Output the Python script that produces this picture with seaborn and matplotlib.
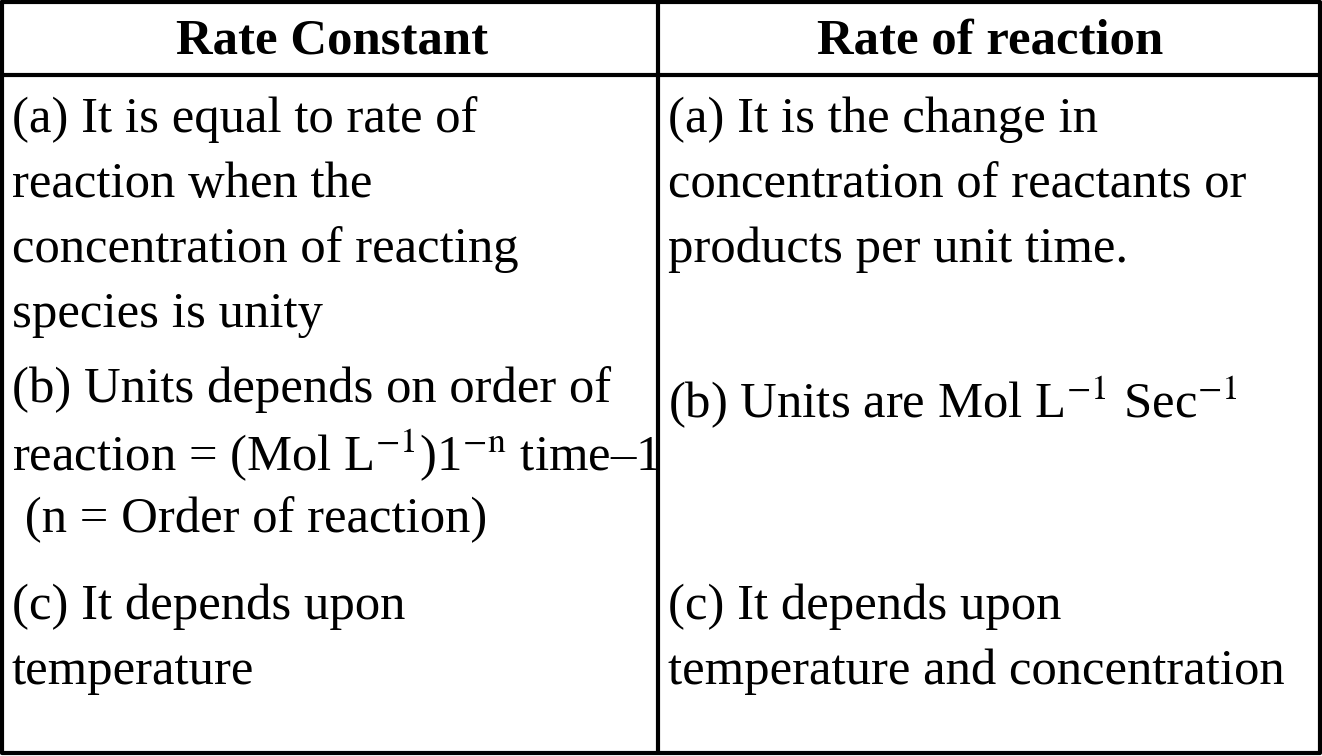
import matplotlib.pyplot as plt
import seaborn as sns

sns.set_style('white')
plt.rcParams['font.family'] = ['Liberation Serif', 'DejaVu Serif']
plt.rcParams['mathtext.fontset'] = 'stix'
plt.rcParams['text.color'] = 'black'

headers = ['Rate Constant', 'Rate of reaction']
left_cells = [
    ['(a) It is equal to rate of', 'reaction when the', 'concentration of reacting', 'species is unity'],
    ['(b) Units depends on order of', r'reaction = (Mol L$^{-1}$)1$^{-\mathrm{n}}$ time–1', ' (n = Order of reaction)'],
    ['(c) It depends upon', 'temperature'],
]
right_cells = [
    ['(a) It is the change in', 'concentration of reactants or', 'products per unit time.'],
    [r'(b) Units are Mol L$^{-1}$ Sec$^{-1}$'],
    ['(c) It depends upon', 'temperature and concentration'],
]
left_row_y = [120, 390, 607]
right_row_y = [120, 402, 607]
line_step = 65
fs = 36.5

W, H = 1322, 756
fig = plt.figure(figsize=(W / 100, H / 100), dpi=100)
ax = fig.add_axes([0, 0, 1, 1])
ax.set_xlim(0, W)
ax.set_ylim(H, 0)
ax.axis('off')

lw = 3
ax.plot([2, W - 2, W - 2, 2, 2], [2, 2, H - 3, H - 3, 2], color='black', lw=lw)
ax.plot([2, W - 2], [75, 75], color='black', lw=lw)
ax.plot([658, 658], [2, H - 3], color='black', lw=lw)

ax.text(332, 42, headers[0], ha='center', va='center', fontsize=fs, fontweight='bold')
ax.text(990, 42, headers[1], ha='center', va='center', fontsize=fs, fontweight='bold')

for x0, cells, ys in [(12, left_cells, left_row_y), (668, right_cells, right_row_y)]:
    for lines, y0 in zip(cells, ys):
        for i, t in enumerate(lines):
            ax.text(x0, y0 + i * line_step, t, ha='left', va='center', fontsize=fs)

fig.savefig('out.png', dpi=100)
